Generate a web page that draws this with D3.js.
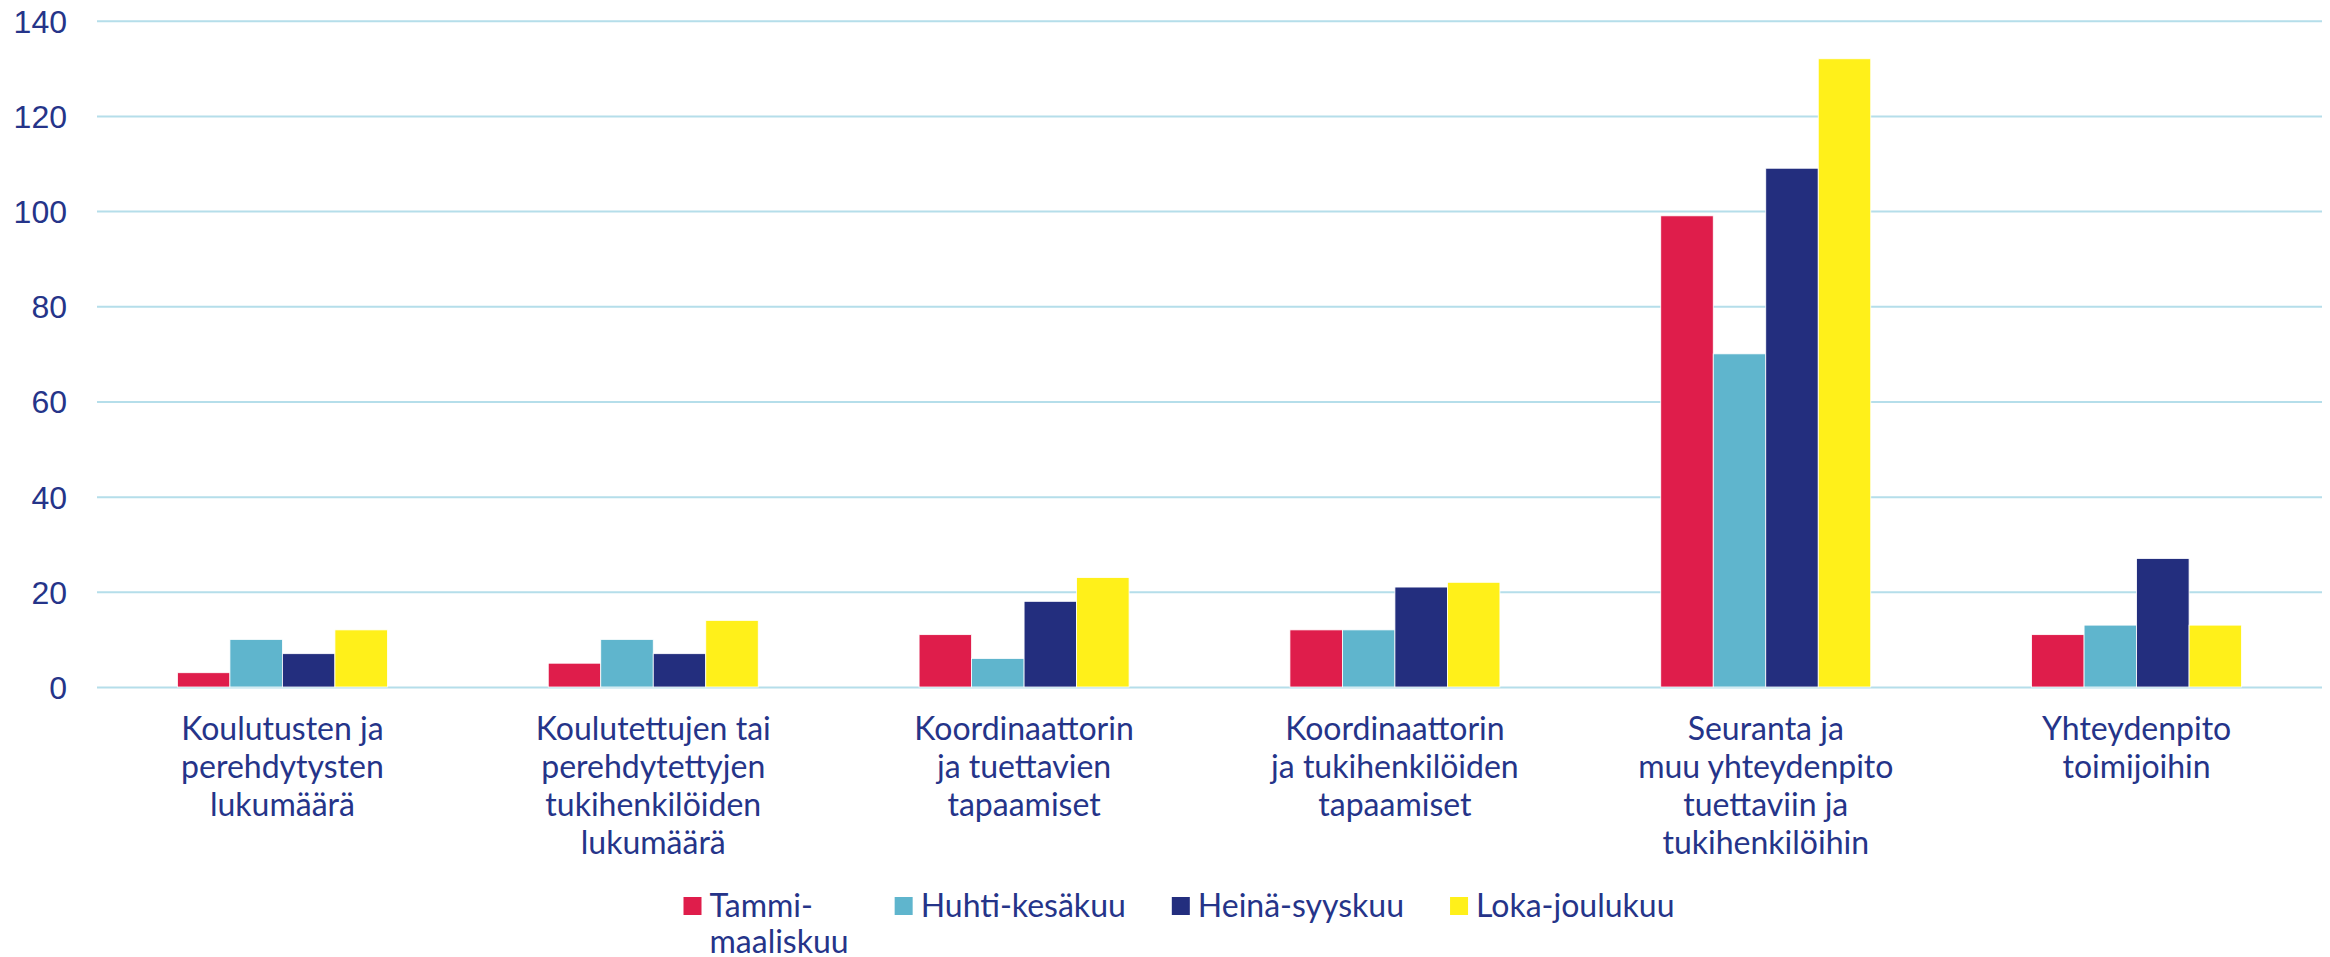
<!DOCTYPE html>
<html>
<head>
<meta charset="utf-8">
<script src="https://cdn.jsdelivr.net/npm/d3@7"></script>
<style>
  html, body { margin: 0; padding: 0; background: #ffffff; }
  svg { display: block; }
</style>
</head>
<body>
<svg id="chart" width="2330" height="957"></svg>
<script>
// ---- data ----
const categories = [
  ["Koulutusten ja", "perehdytysten", "lukumäärä"],
  ["Koulutettujen tai", "perehdytettyjen", "tukihenkilöiden", "lukumäärä"],
  ["Koordinaattorin", "ja tuettavien", "tapaamiset"],
  ["Koordinaattorin", "ja tukihenkilöiden", "tapaamiset"],
  ["Seuranta ja", "muu yhteydenpito", "tuettaviin ja", "tukihenkilöihin"],
  ["Yhteydenpito", "toimijoihin"]
];
const seriesNames = [["Tammi-", "maaliskuu"], ["Huhti-kesäkuu"], ["Heinä-syyskuu"], ["Loka-joulukuu"]];
const tammiMaalis = [3, 5, 11, 12, 99, 11];
const huhtiKesa   = [10, 10, 6, 12, 70, 13];
const heinaSyys   = [7, 7, 18, 21, 109, 27];
const lokaJoulu   = [12, 14, 23, 22, 132, 13];
const yTicks = [0, 20, 40, 60, 80, 100, 120, 140];
const colors = ["#DF1D4B", "#5FB5CD", "#232E7E", "#FFF01A"];

const seriesValues = [tammiMaalis, huhtiKesa, heinaSyys, lokaJoulu];

// ---- layout ----
const svg = d3.select("#chart");
const plotLeft = 97, plotRight = 2322, plotTop = 20.7, plotBottom = 687;
const textColor = "#253489";
const gridColor = "#B5DEEA";

const idx = d3.range(categories.length);
const padding = 1 - 210 / ((plotRight - plotLeft) / categories.length);
const x0 = d3.scaleBand().domain(idx).range([plotLeft, plotRight])
  .paddingInner(padding).paddingOuter(padding / 2);
const x1 = d3.scaleBand().domain(d3.range(seriesValues.length)).range([0, x0.bandwidth()]).padding(0);
const y = d3.scaleLinear().domain([0, 140]).range([plotBottom, plotTop]);

// gridlines + y labels via axis
const yAxis = d3.axisLeft(y).tickValues(yTicks).tickSize(-(plotRight - plotLeft)).tickPadding(30);
const gy = svg.append("g").attr("transform", `translate(${plotLeft},0)`).call(yAxis);
gy.select(".domain").remove();
gy.selectAll(".tick line").attr("stroke", gridColor).attr("stroke-width", 2);
gy.selectAll(".tick text")
  .attr("fill", textColor)
  .attr("font-family", "'Liberation Sans', Arial, sans-serif")
  .attr("font-size", 32)
  .attr("dy", "0.36em");

// bars
const groups = svg.append("g").selectAll("g")
  .data(idx).join("g")
  .attr("transform", i => `translate(${x0(i)},0)`);
groups.selectAll("rect")
  .data(i => seriesValues.map((s, k) => ({ k, v: s[i] })))
  .join("rect")
  .attr("x", d => x1(d.k))
  .attr("width", x1.bandwidth())
  .attr("y", d => y(d.v))
  .attr("height", d => y(0) - y(d.v))
  .attr("fill", d => colors[d.k])
  .attr("stroke", "#ffffff")
  .attr("stroke-width", 0.8);

// category labels
const xAxis = d3.axisBottom(x0).tickSize(0).tickFormat("");
const gx = svg.append("g").attr("transform", `translate(0,${plotBottom})`).call(xAxis);
gx.select(".domain").remove();
gx.selectAll(".tick").each(function(i) {
  const t = d3.select(this).append("text")
    .attr("text-anchor", "middle")
    .attr("fill", textColor)
    .attr("font-family", "Lato, 'Noto Sans', sans-serif")
    .attr("font-size", 32);
  categories[i].forEach((line, j) => {
    t.append("tspan").attr("x", 0).attr("y", 52.5 + j * 38.3).text(line);
  });
});

// legend
const legend = svg.append("g");
const sq = 18, gapText = 8, entryGap = 46, legendBaseline = 917, lineH = 36;
let cursor = 0;
const entries = [];
seriesNames.forEach((lines, k) => {
  const g = legend.append("g").attr("transform", `translate(${cursor},0)`);
  g.append("rect").attr("x", 0).attr("y", legendBaseline - 20).attr("width", sq).attr("height", sq).attr("fill", colors[k]);
  const t = g.append("text")
    .attr("fill", textColor)
    .attr("font-family", "Lato, 'Noto Sans', sans-serif")
    .attr("font-size", 32);
  let maxW = 0;
  lines.forEach((line, j) => {
    const ts = t.append("tspan").attr("x", sq + gapText).attr("y", legendBaseline + j * lineH).text(line);
    maxW = Math.max(maxW, ts.node().getComputedTextLength());
  });
  cursor += sq + gapText + maxW + entryGap;
});
const legendWidth = cursor - entryGap;
legend.attr("transform", `translate(${1179 - legendWidth / 2},0)`);
</script>
</body>
</html>
